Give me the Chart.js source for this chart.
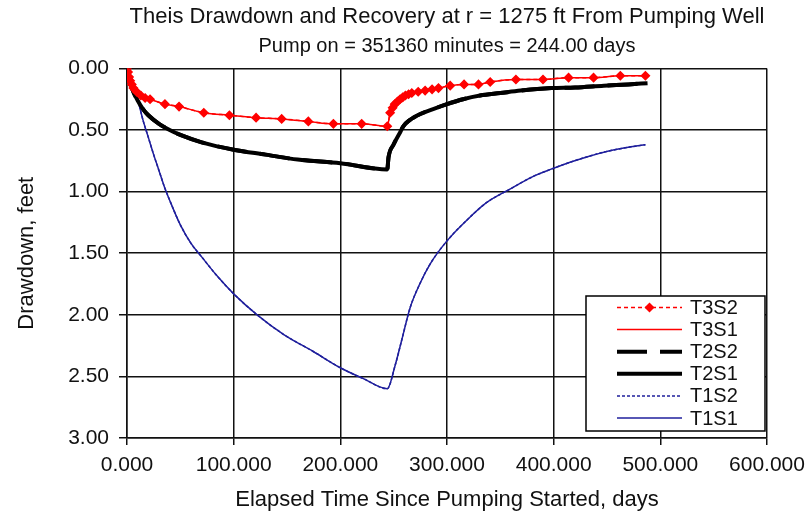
<!DOCTYPE html>
<html>
<head>
<meta charset="utf-8">
<script src="https://cdn.jsdelivr.net/npm/chart.js@4.4.1/dist/chart.umd.min.js"></script>
<style>
  html, body { margin: 0; padding: 0; background: #fff; }
  #wrap { width: 806px; height: 517px; }
</style>
</head>
<body>
<div id="wrap"><canvas id="theis"></canvas></div>
<script>
// Время, сутки / понижение, футы
const t3Days = [0, 1, 2, 3, 4.5, 6, 9, 13, 17, 21.6, 35.6, 48.8, 72, 96, 121, 145, 170, 193.5, 220, 244,
  246.7, 249, 251, 253.5, 256, 258.5, 261, 264, 267, 273, 279.5, 286, 292, 303, 316, 329.5, 340.5, 364.6, 390, 414, 437.4, 462.5, 486];
const t3Drawdown = [0, 0.03, 0.07, 0.10, 0.13, 0.16, 0.19, 0.22, 0.24, 0.25, 0.29, 0.31, 0.36, 0.38, 0.40, 0.41, 0.43, 0.45, 0.45, 0.47,
  0.36, 0.32, 0.29, 0.27, 0.25, 0.235, 0.22, 0.21, 0.20, 0.19, 0.18, 0.17, 0.16, 0.14, 0.13, 0.13, 0.11, 0.09, 0.09, 0.075, 0.075, 0.06, 0.06];

const t2Days = [0, 2, 5, 10, 15, 20, 30, 40, 50, 70, 100, 130, 160, 200, 244,
  245.2, 249.8, 256, 259, 265, 275, 287, 300, 315, 331, 350, 369, 398, 420, 447, 470, 488];
const t2Drawdown = [0, 0.08, 0.17, 0.26, 0.33, 0.38, 0.45, 0.50, 0.54, 0.60, 0.66, 0.70, 0.74, 0.77, 0.82,
  0.72, 0.62, 0.52, 0.47, 0.42, 0.37, 0.33, 0.29, 0.25, 0.22, 0.20, 0.18, 0.16, 0.155, 0.14, 0.13, 0.12];

const t1Days = [0, 3, 6, 10, 15, 20, 25, 30, 35, 40, 50, 60, 70, 85, 100, 122, 147, 175, 200, 222, 244,
  251.4, 257.7, 265.5, 275, 284, 300, 320, 337, 359, 380, 397, 416, 447, 470, 486];
const t1Drawdown = [0, 0.05, 0.13, 0.25, 0.42, 0.56, 0.70, 0.83, 0.96, 1.07, 1.27, 1.42, 1.53, 1.69, 1.83, 2.00, 2.16, 2.30, 2.43, 2.52, 2.60,
  2.41, 2.20, 1.94, 1.74, 1.59, 1.40, 1.22, 1.09, 0.98, 0.88, 0.82, 0.76, 0.68, 0.64, 0.62];

const seriesNames = ['T3S2', 'T3S1', 'T2S2', 'T2S1', 'T1S2', 'T1S1'];
const xTicks = [0, 100, 200, 300, 400, 500, 600];
const yTicks = [0, 0.5, 1, 1.5, 2, 2.5, 3];

const RED = '#ff0000';
const BLACK = '#000000';
const NAVY = '#1f1f9c';

function toPoints(xs, ys) {
  return xs.map((x, i) => ({ x: x, y: ys[i] }));
}

// Легенда в рамке поверх области построения
const boxLegend = {
  id: 'boxLegend',
  afterDraw(chart) {
    const ctx = chart.ctx;
    const left = 586, top = 296, right = 765, bottom = 431;
    ctx.save();
    ctx.fillStyle = '#fff';
    ctx.fillRect(left, top, right - left, bottom - top);
    ctx.strokeStyle = '#000';
    ctx.lineWidth = 1.5;
    ctx.strokeRect(left, top, right - left, bottom - top);

    ctx.font = '20px "Liberation Sans", Arial, sans-serif';
    ctx.textBaseline = 'middle';
    chart.data.datasets.forEach((ds, i) => {
      const y = 307.5 + i * 22.1;
      ctx.beginPath();
      ctx.strokeStyle = ds.borderColor;
      ctx.lineWidth = ds.borderWidth;
      ctx.setLineDash(ds.borderDash || []);
      ctx.moveTo(617, y);
      ctx.lineTo(682, y);
      ctx.stroke();
      ctx.setLineDash([]);
      if (ds.pointRadius > 0) {
        ctx.fillStyle = ds.pointBackgroundColor;
        ctx.beginPath();
        ctx.moveTo(649.5, y - 5);
        ctx.lineTo(654.5, y);
        ctx.lineTo(649.5, y + 5);
        ctx.lineTo(644.5, y);
        ctx.closePath();
        ctx.fill();
      }
      ctx.fillStyle = '#111';
      ctx.fillText(ds.label, 690, y + 1);
    });
    ctx.restore();
  }
};

const sharedFont = { family: '"Liberation Sans", Arial, sans-serif' };

new Chart(document.getElementById('theis'), {
  type: 'line',
  data: {
    datasets: [
      {
        label: seriesNames[0], data: toPoints(t3Days, t3Drawdown),
        borderColor: RED, borderWidth: 1.5, borderDash: [4, 3],
        pointStyle: 'rectRot', pointRadius: 4, pointBackgroundColor: RED, pointBorderColor: RED
      },
      {
        label: seriesNames[1], data: toPoints(t3Days, t3Drawdown),
        borderColor: RED, borderWidth: 1.5, pointRadius: 0
      },
      {
        label: seriesNames[2], data: toPoints(t2Days, t2Drawdown),
        borderColor: BLACK, borderWidth: 4, borderDash: [30, 13], pointRadius: 0
      },
      {
        label: seriesNames[3], data: toPoints(t2Days, t2Drawdown),
        borderColor: BLACK, borderWidth: 4, pointRadius: 0
      },
      {
        label: seriesNames[4], data: toPoints(t1Days, t1Drawdown),
        borderColor: NAVY, borderWidth: 1.5, borderDash: [3, 2], pointRadius: 0
      },
      {
        label: seriesNames[5], data: toPoints(t1Days, t1Drawdown),
        borderColor: NAVY, borderWidth: 1.5, pointRadius: 0
      }
    ]
  },
  options: {
    responsive: true,
    maintainAspectRatio: false,
    animation: false,
    cubicInterpolationMode: 'monotone',
    layout: { padding: { left: 0, right: 39, top: 0, bottom: 0 } },
    plugins: {
      legend: { display: false },
      tooltip: { enabled: false },
      title: {
        display: true,
        fullSize: false,
        text: 'Theis Drawdown and Recovery at r = 1275 ft From Pumping Well',
        color: '#111',
        font: { ...sharedFont, size: 22, weight: 'normal' },
        padding: { top: 4, bottom: 2 }
      },
      subtitle: {
        display: true,
        fullSize: false,
        text: 'Pump on = 351360 minutes = 244.00 days',
        color: '#111',
        font: { ...sharedFont, size: 20 },
        padding: { top: 2, bottom: 10 }
      }
    },
    scales: {
      x: {
        type: 'linear',
        min: 0, max: 600,
        afterBuildTicks: (scale) => { scale.ticks = xTicks.map(v => ({ value: v })); },
        afterFit: (scale) => { scale.height = 79; scale.paddingRight = 0; },
        ticks: {
          color: '#111',
          font: { ...sharedFont, size: 21 },
          padding: 8,
          maxRotation: 0,
          callback: (v) => Number(v).toFixed(3)
        },
        grid: { color: '#111', lineWidth: 1.5, tickLength: 7 },
        border: { color: '#111', width: 1.5 },
        title: {
          display: true,
          text: 'Elapsed Time Since Pumping Started, days',
          color: '#111',
          font: { ...sharedFont, size: 22 },
          padding: { top: 0, bottom: 4 }
        }
      },
      y: {
        type: 'linear',
        reverse: true,
        min: 0, max: 3,
        afterBuildTicks: (scale) => { scale.ticks = yTicks.map(v => ({ value: v })); },
        afterFit: (scale) => { scale.width = 127; },
        ticks: {
          color: '#111',
          font: { ...sharedFont, size: 21 },
          padding: 10,
          callback: (v) => Number(v).toFixed(2)
        },
        grid: { color: '#111', lineWidth: 1.5, tickLength: 8 },
        border: { color: '#111', width: 1.5 },
        title: {
          display: true,
          text: 'Drawdown, feet',
          color: '#111',
          font: { ...sharedFont, size: 22 },
          padding: { top: 14, bottom: 0 }
        }
      }
    }
  },
  plugins: [boxLegend]
});
</script>
</body>
</html>
